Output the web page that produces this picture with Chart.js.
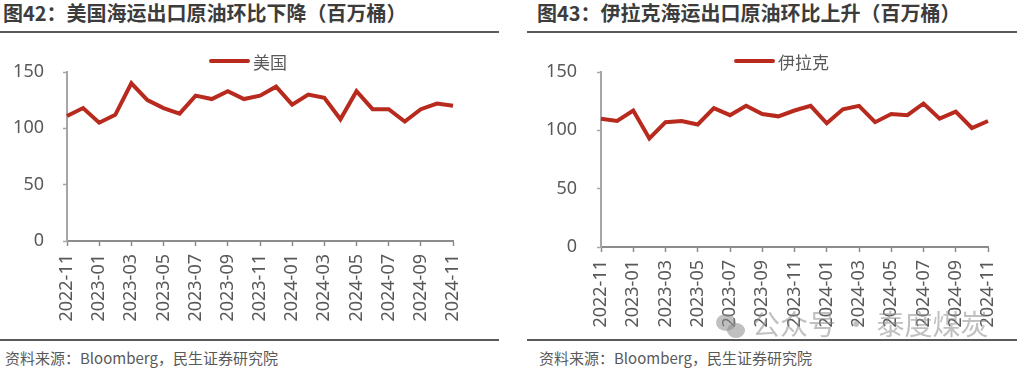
<!DOCTYPE html>
<html>
<head>
<meta charset="utf-8">
<script src="https://cdn.jsdelivr.net/npm/chart.js@4.4.1/dist/chart.umd.min.js"></script>
<style>
  body { margin: 0; width: 1028px; height: 368px; background: #fff; position: relative; overflow: hidden;
         font-family: "Noto Sans CJK SC", "Noto Sans", sans-serif; }
  .title { position: absolute; top: 3px; font-size: 20px; line-height: 20px; font-weight: bold; color: #3c3c3c; white-space: nowrap; }
  .rule { position: absolute; height: 2px; background: #5a5a5a; }
  .src { position: absolute; top: 350px; font-size: 15px; line-height: 15px; color: #595959; white-space: nowrap; }
  .legend { position: absolute; top: 51px; height: 20px; font-size: 17px; color: #595959; display: flex; align-items: center; white-space: nowrap; }
  .legend i { display: inline-block; width: 41px; height: 4px; background: #b92a1e; border-radius: 2px; margin-right: 3px; }
  canvas { position: absolute; }
  .wm { position: absolute; top: 308px; left: 716px; font-size: 28px; line-height: 30px; color: rgba(140,140,140,0.55); white-space: nowrap; }
  .wm b { display: inline-block; width: 30px; height: 26px; position: relative; vertical-align: middle; margin-right: 6px; }
  .wm b:before, .wm b:after { content: ""; position: absolute; border-radius: 50%; background: rgba(140,140,140,0.55); }
  .wm b:before { left: 0; top: 0; width: 20px; height: 17px; }
  .wm b:after { left: 11px; top: 9px; width: 18px; height: 15px; }
</style>
</head>
<body>
<div class="title" style="left:3px">图42：美国海运出口原油环比下降（百万桶）</div>
<div class="rule" style="left:0;top:31px;width:499px"></div>
<div class="title" style="left:537px">图43：伊拉克海运出口原油环比上升（百万桶）</div>
<div class="rule" style="left:527px;top:31px;width:490px"></div>

<canvas id="usChart" width="500" height="300" style="left:0;top:40px"></canvas>
<canvas id="iraqChart" width="501" height="300" style="left:527px;top:40px"></canvas>

<div class="legend" style="left:209px"><i></i>美国</div>
<div class="legend" style="left:734px"><i></i>伊拉克</div>

<div class="wm"><b></b>公众号 · 泰度煤炭</div>

<div class="rule" style="left:0;top:339px;width:499px"></div>
<div class="rule" style="left:527px;top:339px;width:490px"></div>
<div class="src" style="left:5px">资料来源：Bloomberg，民生证券研究院</div>
<div class="src" style="left:539px">资料来源：Bloomberg，民生证券研究院</div>

<script>
const months = ['2022-11', '2022-12', '2023-01', '2023-02', '2023-03', '2023-04', '2023-05', '2023-06',
  '2023-07', '2023-08', '2023-09', '2023-10', '2023-11', '2023-12', '2024-01', '2024-02', '2024-03',
  '2024-04', '2024-05', '2024-06', '2024-07', '2024-08', '2024-09', '2024-10', '2024-11'];
const usValues = [111, 118, 105, 112, 140, 125, 118, 113, 129, 126, 133, 126, 129, 137, 121, 130, 127,
  108, 133, 117, 117, 106, 117, 122, 120];
const iraqValues = [110, 108, 117, 93, 107, 108, 105, 119, 113, 121, 114, 112, 117, 121, 106, 118, 121,
  107, 114, 113, 123, 110, 116, 102, 108];
const yTicks = [0, 50, 100, 150];

Chart.defaults.font.family = '"Noto Sans", "Noto Sans CJK SC", sans-serif';
Chart.defaults.color = '#595959';

function makeChart(id, label, values, box) {
  const ctx = document.getElementById(id).getContext('2d');
  return new Chart(ctx, {
    type: 'line',
    data: {
      labels: months,
      datasets: [{
        label: label,
        data: values,
        borderColor: '#b92a1e',
        backgroundColor: '#b92a1e',
        borderWidth: 4,
        pointRadius: 0,
        tension: 0,
        fill: false
      }]
    },
    options: {
      responsive: false,
      animation: false,
      layout: { padding: { top: 32, right: box.right, left: 0, bottom: 0 } },
      plugins: { legend: { display: false }, tooltip: { enabled: false } },
      scales: {
        x: {
          offset: false,
          afterFit: s => { s.height = box.xHeight; },
          border: { color: '#8c8c8c', width: 2 },
          grid: {
            offset: false,
            drawOnChartArea: false,
            drawTicks: true,
            tickLength: 5,
            tickWidth: 1.5,
            tickColor: c => (c.index % 2 === 0 ? '#8c8c8c' : 'transparent')
          },
          ticks: {
            autoSkip: false,
            maxRotation: 90,
            minRotation: 90,
            padding: 8,
            font: { size: 18 },
            callback: (v, i) => (i % 2 === 0 ? months[i] : '')
          }
        },
        y: {
          min: 0,
          max: 150,
          afterFit: s => { s.width = box.yWidth; },
          afterBuildTicks: s => { s.ticks = yTicks.map(v => ({ value: v })); },
          border: { color: '#a6a6a6', width: 2 },
          grid: {
            drawOnChartArea: false,
            drawTicks: true,
            tickLength: 4,
            tickWidth: 1.5,
            tickColor: '#a6a6a6'
          },
          ticks: { padding: box.yPad, font: { size: 18 } }
        }
      }
    }
  });
}

makeChart('usChart', '美国', usValues, { right: 47, xHeight: 99, yWidth: 67, yPad: 19 });
makeChart('iraqChart', '伊拉克', iraqValues, { right: 40, xHeight: 93, yWidth: 74, yPad: 20 });
</script>
</body>
</html>
